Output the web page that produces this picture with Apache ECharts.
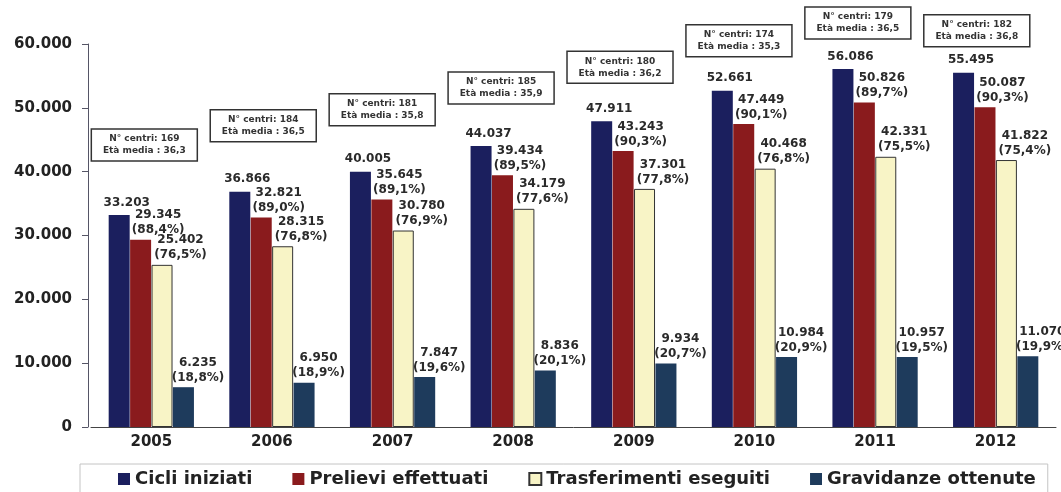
<!DOCTYPE html>
<html lang="it">

<head>
    <meta charset="UTF-8">
    <title>Cicli, prelievi, trasferimenti e gravidanze 2005-2012</title>
    <style>
        * {
            margin: 0;
            padding: 0;
        }
        body {
            background: #fff;
        }
    </style>
    <script src="https://cdn.jsdelivr.net/npm/echarts@6/dist/echarts.min.js"></script>
</head>

<body>
    <div id="chart" style="width: 1061px;height: 492px;"></div>
    <script>
        // dati
        var anni = ['2005', '2006', '2007', '2008', '2009', '2010', '2011', '2012']
        var cicli = [33203, 36866, 40005, 44037, 47911, 52661, 56086, 55495]
        var prelievi = [29345, 32821, 35645, 39434, 43243, 47449, 50826, 50087]
        var prelieviPerc = ['88,4%', '89,0%', '89,1%', '89,5%', '90,3%', '90,1%', '89,7%', '90,3%']
        var trasferimenti = [25402, 28315, 30780, 34179, 37301, 40468, 42331, 41822]
        var trasferimentiPerc = ['76,5%', '76,8%', '76,9%', '77,6%', '77,8%', '76,8%', '75,5%', '75,4%']
        var gravidanze = [6235, 6950, 7847, 8836, 9934, 10984, 10957, 11070]
        var gravidanzePerc = ['18,8%', '18,9%', '19,6%', '20,1%', '20,7%', '20,9%', '19,5%', '19,9%']
        var centri = [169, 184, 181, 185, 180, 174, 179, 182]
        var etaMedia = ['36,3', '36,5', '35,8', '35,9', '36,2', '35,3', '36,5', '36,8']

        var yTicks = [0, 10000, 20000, 30000, 40000, 50000, 60000]

        var font = 'DejaVu Sans, Verdana, sans-serif'
        var fmt = (v) => v.toLocaleString('it-IT').replace(/\s/g, '.')

        var labelStyle = (perc, dx) => ({
            show: true,
            position: [dx, -2],
            align: 'center',
            verticalAlign: 'bottom',
            fontFamily: font,
            fontWeight: 'bold',
            fontSize: 12,
            lineHeight: 15,
            color: '#2a2a2a',
            formatter: (p) => fmt(p.value) + (perc ? '\n(' + perc[p.dataIndex] + ')' : '')
        })

        var chart = echarts.init(document.getElementById('chart'))
        var option = {
            animation: false,
            backgroundColor: '#fff',
            grid: {
                left: 91,
                right: 5,
                top: 44,
                bottom: 65
            },
            legend: {
                top: 464,
                left: 80,
                data: ['Cicli iniziati', 'Prelievi effettuati', 'Trasferimenti eseguiti', 'Gravidanze ottenute'],
                icon: 'rect',
                itemWidth: 12,
                itemHeight: 12,
                itemGap: 40,
                padding: [6, 12, 10, 38],
                borderColor: '#c4c4c4',
                borderWidth: 1,
                textStyle: {
                    fontFamily: font,
                    fontWeight: 'bold',
                    fontSize: 18,
                    color: '#222'
                }
            },
            xAxis: {
                type: 'category',
                data: anni,
                axisLine: { lineStyle: { color: '#444', width: 1 } },
                axisTick: { length: 4, lineStyle: { color: '#444' } },
                axisLabel: {
                    margin: 8,
                    fontFamily: font,
                    fontWeight: 'bold',
                    fontSize: 15,
                    color: '#222'
                }
            },
            yAxis: {
                type: 'value',
                min: yTicks[0],
                max: yTicks[yTicks.length - 1],
                interval: 10000,
                offset: 3,
                splitLine: { show: false },
                axisLine: { show: true, lineStyle: { color: '#556' } },
                axisTick: { show: true, length: 6, lineStyle: { color: '#556' } },
                axisLabel: {
                    margin: 16,
                    fontFamily: font,
                    fontWeight: 'bold',
                    fontSize: 15,
                    color: '#222',
                    formatter: (v) => v === 0 ? '0' : fmt(v)
                }
            },
            series: [{
                name: 'Cicli iniziati',
                type: 'bar',
                data: cicli,
                barWidth: 21,
                barGap: '2%',
                barCategoryGap: '28%',
                itemStyle: { color: '#1b1f5e' },
                label: Object.assign(labelStyle(null, 18), { position: [18, -5] })
            }, {
                name: 'Prelievi effettuati',
                type: 'bar',
                data: prelievi,
                barWidth: 21,
                barGap: '2%',
                itemStyle: { color: '#8a1b1d' },
                label: labelStyle(prelieviPerc, 28)
            }, {
                name: 'Trasferimenti eseguiti',
                type: 'bar',
                data: trasferimenti,
                barWidth: 21,
                barGap: '2%',
                itemStyle: { color: '#f8f4c6', borderColor: '#333', borderWidth: 1 },
                label: labelStyle(trasferimentiPerc, 29)
            }, {
                name: 'Gravidanze ottenute',
                type: 'bar',
                data: gravidanze,
                barWidth: 21,
                barGap: '2%',
                itemStyle: { color: '#1e3b5c' },
                label: labelStyle(gravidanzePerc, 25)
            }, {
                // riquadri "N° centri / Età media" sopra ogni anno
                type: 'custom',
                silent: true,
                z: 10,
                data: cicli.map((v, i) => [i, v]),
                renderItem: (params, api) => {
                    var i = api.value(0)
                    var p = api.coord([i, api.value(1)])
                    var w = 106, h = 32
                    var cy = p[1] - (42 + (7 - i) * 4)
                    var top = Math.max(cy - h / 2, 7)
                    var left = p[0] - 7 - i * 1.7 - w / 2
                    return {
                        type: 'group',
                        children: [{
                            type: 'rect',
                            shape: { x: left, y: top, width: w, height: h },
                            style: { fill: '#fff', stroke: '#333', lineWidth: 1.5 }
                        }, {
                            type: 'text',
                            style: {
                                x: left + w / 2,
                                y: top + h / 2,
                                text: 'N° centri: ' + centri[i] + '\nEtà media : ' + etaMedia[i],
                                align: 'center',
                                verticalAlign: 'middle',
                                fontFamily: font,
                                fontWeight: 'bold',
                                fontSize: 9,
                                lineHeight: 12,
                                fill: '#333'
                            }
                        }]
                    }
                }
            }]
        }
        chart.setOption(option)
    </script>
</body>

</html>
